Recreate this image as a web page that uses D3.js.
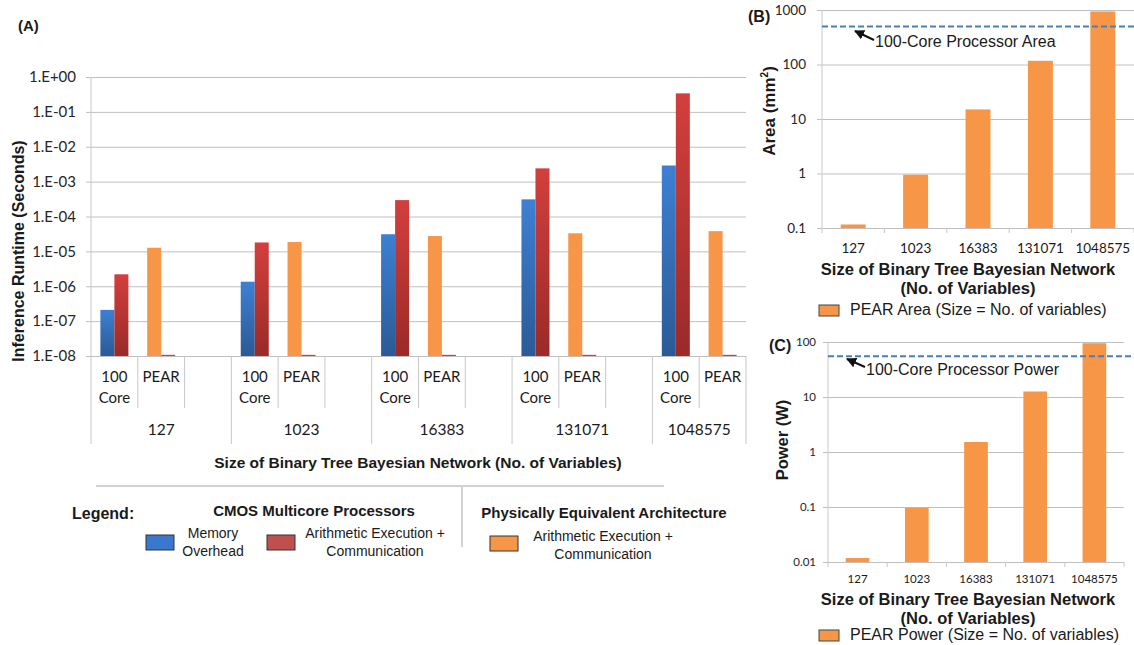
<!DOCTYPE html>
<html lang="en">
<head>
<meta charset="utf-8">
<title>Inference runtime, area and power of PEAR vs a 100-core processor</title>
<script src="https://d3js.org/d3.v7.min.js"></script>
<style>
  body { margin: 0; background: #fff; }
  svg { display: block; font-family: 'Liberation Sans', Arial, sans-serif; fill: #1a1a1a; }
  .cal { font-family: Lato, 'Liberation Sans', sans-serif; }
  .grid line { stroke: #c0c0c0; }
  .grid path { stroke: none; }
  .ticks path { stroke: none; }
  .ticks text { fill: #262626; }
  .cat { stroke: #c8c8c8; }
  .bold { font-weight: bold; }
</style>
</head>
<body>
<svg id="fig" width="1134" height="645"></svg>
<script>
// ---- data ----
const sizes = ['127', '1023', '16383', '131071', '1048575'];
// panel A, seconds
const memoryOverhead = [2.1e-7, 1.35e-6, 3.1e-5, 3.1e-4, 2.9e-3];
const coreArith      = [2.2e-6, 1.8e-5, 2.95e-4, 2.4e-3, 0.34];
const pearArith      = [1.27e-5, 1.85e-5, 2.75e-5, 3.3e-5, 3.8e-5];
const pearResidual   = [1.08e-8, 1.08e-8, 1.08e-8, 1.08e-8, 1.08e-8];
const runtimeTicks = [1e-8, 1e-7, 1e-6, 1e-5, 1e-4, 1e-3, 1e-2, 1e-1, 1];
// panel B, mm^2
const pearArea = [0.116, 0.95, 15, 117, 940];
const coreArea = 500;
const areaTicks = [0.1, 1, 10, 100, 1000];
// panel C, W
const pearPower = [0.0118, 0.097, 1.52, 12.6, 95];
const corePower = 55;
const powerTicks = [0.01, 0.1, 1, 10, 100];

const svg = d3.select('#fig');
const defs = svg.append('defs');

function grad(id, top, bottom) {
  const g = defs.append('linearGradient').attr('id', id)
    .attr('x1', 0).attr('y1', 0).attr('x2', 0).attr('y2', 1);
  g.append('stop').attr('offset', '0%').attr('stop-color', top);
  g.append('stop').attr('offset', '100%').attr('stop-color', bottom);
}
grad('gBlue', '#3d80d3', '#2b5a96');
grad('gRed', '#d33f3c', '#9a2a28');

defs.append('marker').attr('id', 'arrow')
  .attr('viewBox', '0 0 10 10').attr('refX', 9).attr('refY', 5)
  .attr('markerWidth', 5).attr('markerHeight', 5).attr('orient', 'auto-start-reverse')
  .append('path').attr('d', 'M0,0 L10,5 L0,10 z').attr('fill', '#111');

const fmtE = d => {
  const e = Math.round(Math.log10(d));
  return '1.E' + (e < 0 ? '-' : '+') + String(Math.abs(e)).padStart(2, '0');
};

// ================= panel A =================
const slots = [];
sizes.forEach((s, i) => {
  slots.push({ key: s + '-core', size: s, kind: 'core' });
  slots.push({ key: s + '-pear', size: s, kind: 'pear' });
  if (i < sizes.length - 1) slots.push({ key: s + '-gap', size: s, kind: 'gap' });
});

const xA = d3.scaleBand().domain(slots.map(d => d.key)).range([91, 746]);
const xIn = d3.scaleBand().domain(['left', 'right']).range([0, xA.bandwidth()]).paddingOuter(0.67);
const yA = d3.scaleLog().domain([1e-8, 1]).range([356, 77]);

svg.append('g').attr('class', 'grid')
  .attr('transform', 'translate(746,0)')
  .call(d3.axisLeft(yA).tickValues(runtimeTicks).tickSize(660).tickFormat(''));

svg.append('g').attr('class', 'ticks cal')
  .attr('transform', 'translate(91,0)')
  .call(d3.axisLeft(yA).tickValues(runtimeTicks).tickSize(0).tickPadding(15).tickFormat(fmtE))
  .call(g => g.selectAll('text').attr('font-size', 15).attr('font-family', null));

svg.append('line').attr('class', 'cat')
  .attr('x1', 91).attr('x2', 91).attr('y1', yA(1)).attr('y2', yA(1e-8));

const barsA = [];
sizes.forEach((s, i) => {
  barsA.push({ slot: s + '-core', pos: 'left', v: memoryOverhead[i], fill: 'url(#gBlue)' });
  barsA.push({ slot: s + '-core', pos: 'right', v: coreArith[i], fill: 'url(#gRed)' });
  barsA.push({ slot: s + '-pear', pos: 'left', v: pearArith[i], fill: '#f79646' });
  barsA.push({ slot: s + '-pear', pos: 'right', v: pearResidual[i], fill: '#dd3b37' });
});

svg.append('g').selectAll('rect').data(barsA).join('rect')
  .attr('x', d => xA(d.slot) + xIn(d.pos))
  .attr('width', xIn.bandwidth())
  .attr('y', d => yA(d.v))
  .attr('height', d => yA(1e-8) - yA(d.v))
  .attr('fill', d => d.fill);

// multi-level category axis
const bounds = slots.map(d => ({ x: xA(d.key), long: d.kind === 'core' }));
bounds.push({ x: 746, long: true });
svg.append('g').selectAll('line').data(bounds).join('line')
  .attr('class', 'cat')
  .attr('x1', d => d.x).attr('x2', d => d.x)
  .attr('y1', yA(1e-8)).attr('y2', d => d.long ? 444 : 408);

const subLab = svg.append('g').attr('class', 'cal').attr('font-size', 15).attr('text-anchor', 'middle');
slots.filter(d => d.kind !== 'gap').forEach(d => {
  const cx = xA(d.key) + xA.bandwidth() / 2;
  if (d.kind === 'core') {
    subLab.append('text').attr('x', cx).attr('y', 382).text('100');
    subLab.append('text').attr('x', cx).attr('y', 403).text('Core');
  } else {
    subLab.append('text').attr('x', cx).attr('y', 382).text('PEAR');
  }
});
sizes.forEach((s, i) => {
  const x0 = xA(s + '-core');
  const x1 = i < sizes.length - 1 ? xA(sizes[i + 1] + '-core') : 746;
  subLab.append('text').attr('x', (x0 + x1) / 2).attr('y', 435).attr('font-size', 15.5).text(s);
});

svg.append('text').attr('class', 'bold').attr('font-size', 15.5)
  .attr('x', 418).attr('y', 468).attr('text-anchor', 'middle')
  .text('Size of Binary Tree Bayesian Network (No. of Variables)');

svg.append('text').attr('class', 'bold').attr('font-size', 16)
  .attr('transform', 'translate(24,251) rotate(-90)').attr('text-anchor', 'middle')
  .text('Inference Runtime (Seconds)');

svg.append('text').attr('class', 'bold').attr('font-size', 15)
  .attr('x', 18).attr('y', 31).text('(A)');

// legend of A
svg.append('line').attr('x1', 96).attr('x2', 664).attr('y1', 486).attr('y2', 486).attr('stroke', '#a6a6a6');
svg.append('line').attr('x1', 462).attr('x2', 462).attr('y1', 487).attr('y2', 547).attr('stroke', '#a6a6a6');
svg.append('text').attr('class', 'bold').attr('font-size', 16).attr('x', 72).attr('y', 519).text('Legend:');
svg.append('text').attr('class', 'bold').attr('font-size', 15).attr('x', 314).attr('y', 516)
  .attr('text-anchor', 'middle').text('CMOS Multicore Processors');
svg.append('text').attr('class', 'bold').attr('font-size', 15).attr('x', 604).attr('y', 518)
  .attr('text-anchor', 'middle').text('Physically Equivalent Architecture');

const legA = [
  { x: 146, y: 535, fill: '#3a78cd', cx: 213, ty: 538, lines: ['Memory', 'Overhead'] },
  { x: 267, y: 535, fill: '#c0504d', cx: 375, ty: 538, lines: ['Arithmetic Execution +', 'Communication'] },
  { x: 490, y: 536, fill: '#f79646', cx: 603, ty: 541, lines: ['Arithmetic Execution +', 'Communication'] }
];
legA.forEach(d => {
  svg.append('rect').attr('x', d.x).attr('y', d.y).attr('width', 28).attr('height', 15)
    .attr('fill', d.fill).attr('stroke', '#333').attr('stroke-width', 1);
  d.lines.forEach((t, j) => svg.append('text').attr('font-size', 14).attr('text-anchor', 'middle')
    .attr('x', d.cx).attr('y', d.ty + j * 17.5).text(t));
});

// ================= panels B and C =================
function smallPanel(o) {
  const x = d3.scaleBand().domain(sizes).range([o.left, o.right]).paddingInner(0.6).paddingOuter(0.3);
  const y = d3.scaleLog().domain(o.domain).range([o.bottom, o.top]);

  svg.append('g').attr('class', 'grid')
    .attr('transform', `translate(${o.gridRight},0)`)
    .call(d3.axisLeft(y).tickValues(o.ticks).tickSize(o.gridRight - o.left + 5).tickFormat(''));

  svg.append('g').attr('class', 'ticks cal')
    .attr('transform', `translate(${o.left},0)`)
    .call(d3.axisLeft(y).tickValues(o.ticks).tickSize(0).tickPadding(o.pad).tickFormat(d3.format('~g')))
    .call(g => g.selectAll('text').attr('font-size', o.tickFont).attr('font-family', null));

  svg.append('line').attr('class', 'cat').attr('stroke', '#a0a0a0')
    .attr('x1', o.left).attr('x2', o.left).attr('y1', o.top).attr('y2', o.bottom);

  const step = x.step();
  const edges = sizes.map(s => x(s) - step * 0.3).concat([o.right]);
  svg.append('g').selectAll('line').data(edges).join('line')
    .attr('class', 'cat').attr('stroke', '#a0a0a0')
    .attr('x1', d => d).attr('x2', d => d).attr('y1', o.bottom).attr('y2', o.bottom + 5);

  svg.append('g').selectAll('rect').data(o.values).join('rect')
    .attr('x', (d, i) => x(sizes[i]))
    .attr('width', x.bandwidth())
    .attr('y', d => y(d))
    .attr('height', d => o.bottom - y(d))
    .attr('fill', '#f79646');

  svg.append('g').attr('class', 'cal').attr('font-size', o.tickFont).attr('text-anchor', 'middle')
    .selectAll('text').data(sizes).join('text')
    .attr('x', d => x(d) + x.bandwidth() / 2).attr('y', o.xTickY).text(d => d);

  const yRef = y(o.ref);
  svg.append('line').attr('x1', o.left).attr('x2', 1134).attr('y1', yRef).attr('y2', yRef)
    .attr('stroke', '#4a7ebb').attr('stroke-width', 2).attr('stroke-dasharray', '6,3');

  svg.append('line').attr('x1', o.arrow[2]).attr('y1', o.arrow[3])
    .attr('x2', o.arrow[0]).attr('y2', o.arrow[1])
    .attr('stroke', '#111').attr('stroke-width', 2).attr('marker-end', 'url(#arrow)');
  svg.append('text').attr('font-size', 16).attr('x', o.arrow[2] + 1).attr('y', o.annY).text(o.annText);

  svg.append('text').attr('class', 'bold').attr('font-size', 16.5).attr('text-anchor', 'middle')
    .attr('x', 968).attr('y', o.titleY).text('Size of Binary Tree Bayesian Network');
  svg.append('text').attr('class', 'bold').attr('font-size', 16.5).attr('text-anchor', 'middle')
    .attr('x', 968).attr('y', o.titleY + 19).text('(No. of Variables)');

  svg.append('rect').attr('x', 819).attr('y', o.legY - 10).attr('width', 20).attr('height', 11)
    .attr('fill', '#f79646').attr('stroke', '#444');
  svg.append('text').attr('font-size', 16).attr('x', 850).attr('y', o.legY).text(o.legText);

  svg.append('text').attr('class', 'bold').attr('font-size', 16)
    .attr('x', o.tag[0]).attr('y', o.tag[1]).text(o.tagText);
}

smallPanel({
  left: 822, right: 1134, gridRight: 1134, top: 10, bottom: 228,
  domain: [0.1, 1000], ticks: areaTicks, values: pearArea, ref: coreArea,
  pad: 16, tickFont: 13.5, xTickY: 253,
  arrow: [855, 31, 874, 40], annY: 47, annText: '100-Core Processor Area',
  titleY: 275, legY: 315, legText: 'PEAR Area (Size = No. of variables)',
  tag: [748, 22], tagText: '(B)'
});

smallPanel({
  left: 828, right: 1124, gridRight: 1124, top: 342, bottom: 562,
  domain: [0.01, 100], ticks: powerTicks, values: pearPower, ref: corePower,
  pad: 12, tickFont: 11.5, xTickY: 583,
  arrow: [847, 359, 865, 367], annY: 375, annText: '100-Core Processor Power',
  titleY: 605, legY: 640, legText: 'PEAR Power (Size = No. of variables)',
  tag: [769, 351], tagText: '(C)'
});

// y titles of B and C
svg.append('text').attr('class', 'bold').attr('font-size', 17)
  .attr('transform', 'translate(775,111) rotate(-90)').attr('text-anchor', 'middle')
  .call(t => {
    t.append('tspan').text('Area (mm');
    t.append('tspan').attr('font-size', 10).attr('dy', -7).text('2');
    t.append('tspan').attr('dy', 7).text(')');
  });
svg.append('text').attr('class', 'bold').attr('font-size', 16.5)
  .attr('transform', 'translate(788,440) rotate(-90)').attr('text-anchor', 'middle')
  .text('Power (W)');
</script>
</body>
</html>
